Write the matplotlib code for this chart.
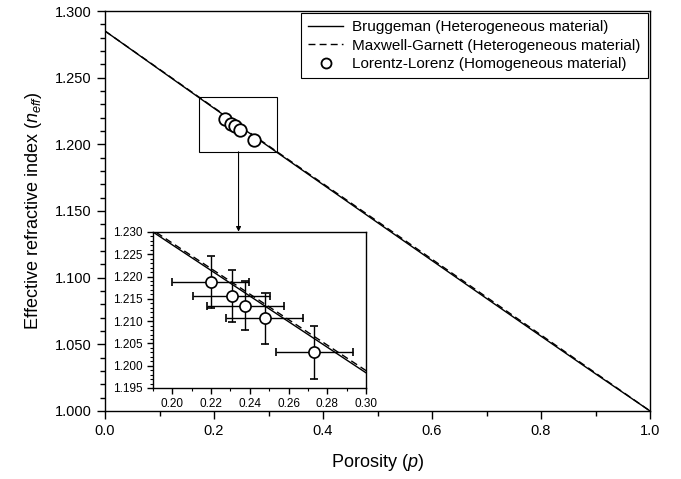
import numpy as np
import matplotlib
matplotlib.use('Agg')
from matplotlib import pyplot as plt
from matplotlib.patches import Rectangle
from matplotlib.ticker import MultipleLocator, FormatStrFormatter

plt.rcParams['font.family'] = ['Liberation Sans', 'DejaVu Sans']
plt.rcParams['mathtext.fontset'] = 'custom'
plt.rcParams['mathtext.rm'] = 'Liberation Sans'
plt.rcParams['mathtext.it'] = 'Liberation Sans:italic'

# model curves
porosity_model = [0.0, 0.1, 0.2, 0.3, 0.4, 0.5, 0.6, 0.7, 0.8, 0.9, 1.0]
n_bruggeman = [1.285, 1.2560, 1.2271, 1.1984, 1.1698, 1.1413, 1.1128, 1.0844, 1.0561, 1.0279, 1.000]
n_maxwell = [1.285, 1.2563, 1.2275, 1.1989, 1.1705, 1.1422, 1.1138, 1.0854, 1.0570, 1.0285, 1.000]

# measured samples (Lorentz-Lorenz)
porosity_meas = [0.2198, 0.2306, 0.2377, 0.2477, 0.2733]
n_meas = [1.2187, 1.2156, 1.2135, 1.2106, 1.2030]
porosity_err = [0.020, 0.020, 0.020, 0.020, 0.020]
n_err = [0.0058, 0.0058, 0.0056, 0.0058, 0.0059]

fig = plt.figure(figsize=(6.81, 4.79), dpi=100)
ax = fig.add_axes([0.1542, 0.142, 0.8003, 0.835])

ax.plot(porosity_model, n_bruggeman, color='black', lw=1.0,
        label='Bruggeman (Heterogeneous material)')
ax.plot(porosity_model, n_maxwell, color='black', lw=1.0, ls=(0, (5, 3)),
        label='Maxwell-Garnett (Heterogeneous material)')
ax.plot(porosity_meas, n_meas, ls='none', marker='o', ms=9, mfc='white',
        mec='black', mew=1.3, label='Lorentz-Lorenz (Homogeneous material)', zorder=5)

ax.set_xlim(0, 1)
ax.set_ylim(1.0, 1.3)
ax.xaxis.set_major_locator(MultipleLocator(0.2))
ax.xaxis.set_minor_locator(MultipleLocator(0.1))
ax.yaxis.set_major_locator(MultipleLocator(0.05))
ax.yaxis.set_minor_locator(MultipleLocator(0.01))
ax.xaxis.set_major_formatter(FormatStrFormatter('%.1f'))
ax.yaxis.set_major_formatter(FormatStrFormatter('%.3f'))
ax.tick_params(which='both', direction='out', top=False, right=False, labelsize=10.5)
ax.tick_params(which='major', length=6, width=1.0)
ax.tick_params(which='minor', length=3.5, width=1.0)
for s in ax.spines.values():
    s.set_linewidth(1.0)
ax.set_xlabel('Porosity ($p$)', fontsize=13, labelpad=10)
ax.set_ylabel('Effective refractive index ($n_{eff}$)', fontsize=13, labelpad=8)

leg = ax.legend(loc='upper right', fontsize=11, frameon=True, fancybox=False,
                borderaxespad=0.15, handlelength=2.3, labelspacing=0.3,
                handletextpad=0.6, borderpad=0.45, markerscale=0.8)
leg.get_frame().set_edgecolor('black')
leg.get_frame().set_linewidth(0.8)
leg.get_frame().set_alpha(1)

# zoom box and arrow
ax.add_patch(Rectangle((0.172, 1.1944), 0.143, 0.0409, fill=False,
                       edgecolor='black', lw=0.8, zorder=4))
ax.annotate('', xy=(0.245, 1.1345), xytext=(0.245, 1.1944),
            arrowprops=dict(arrowstyle='-|>', lw=0.8, color='black',
                            mutation_scale=7, shrinkA=0, shrinkB=0))

# inset
ins = fig.add_axes([0.2247, 0.190, 0.3128, 0.3257])
ins.plot(porosity_model, n_bruggeman, color='black', lw=1.0)
ins.plot(porosity_model, n_maxwell, color='black', lw=1.0, ls=(0, (5, 3)))
ins.errorbar(porosity_meas, n_meas, xerr=porosity_err, yerr=n_err, fmt='o',
             ms=8, mfc='white', mec='black', mew=1.2, ecolor='black',
             elinewidth=1.0, capsize=3, capthick=1.0, zorder=5)
ins.set_xlim(0.19, 0.30)
ins.set_ylim(1.195, 1.230)
ins.xaxis.set_major_locator(MultipleLocator(0.02))
ins.xaxis.set_minor_locator(MultipleLocator(0.01))
ins.yaxis.set_major_locator(MultipleLocator(0.005))
ins.yaxis.set_minor_locator(MultipleLocator(0.001))
ins.xaxis.set_major_formatter(FormatStrFormatter('%.2f'))
ins.yaxis.set_major_formatter(FormatStrFormatter('%.3f'))
ins.tick_params(which='both', direction='out', top=False, right=False, labelsize=8.5)
ins.tick_params(which='major', length=4, width=1.0)
ins.tick_params(which='minor', length=2.5, width=0.8)
for s in ins.spines.values():
    s.set_linewidth(1.0)

fig.savefig('out.png', dpi=100)
